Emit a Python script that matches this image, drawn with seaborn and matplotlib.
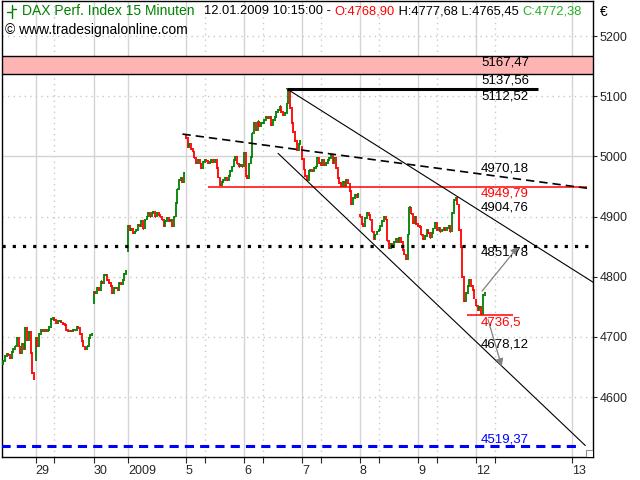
import numpy as np
import pandas as pd
import matplotlib
matplotlib.use('Agg')
import matplotlib.pyplot as plt
from matplotlib.patches import Rectangle
from matplotlib.lines import Line2D
import seaborn as sns

# DAX 15 minute closes per session (bar 0 = 29.12.2008 09:00)
dec23 = [4655, 4660, 4668, 4672, 4670, 4665, 4675, 4680, 4684, 4698,
         4684, 4673, 4688, 4680, 4715, 4695, 4708, 4673, 4640, 4630]
dec29 = [4698, 4684, 4705, 4712, 4709, 4712, 4709, 4712, 4717, 4729,
         4731, 4728, 4723, 4726, 4726, 4724, 4722, 4720, 4712, 4709,
         4710, 4709, 4711, 4712, 4717, 4715, 4705, 4693, 4684, 4680,
         4684, 4698, 4703, 4705]
dec30 = [4775, 4773, 4781, 4778, 4792, 4790, 4803, 4803, 4795, 4790,
         4784, 4773, 4781, 4781, 4778, 4790, 4788, 4795, 4805, 4810]
jan02 = [4885, 4878, 4880, 4873, 4875, 4878, 4886, 4884, 4892, 4880,
         4895, 4900, 4906, 4900, 4906, 4908, 4900, 4906, 4903, 4900,
         4895, 4884, 4892, 4897, 4892, 4895, 4884, 4900, 4922, 4945,
         4961, 4964, 4958, 4972]
jan05 = [5030, 5015, 5020, 5012, 5008, 4998, 4989, 4994, 4988, 4980,
         4991, 4994, 4993, 4989, 4991, 4994, 4991, 4994, 4980, 4965,
         4952, 4958, 4961, 4964, 4961, 4967, 4975, 4983, 4994, 4999,
         4988, 4983, 4985, 4983]
jan06 = [5005, 4967, 4964, 4988, 4999, 5038, 5055, 5044, 5058, 5050,
         5055, 5055, 5061, 5066, 5063, 5066, 5052, 5061, 5066, 5074,
         5077, 5083, 5074, 5069, 5072, 5088, 5108, 5080, 5055, 5040,
         5025, 5010, 5020, 5025]
jan07 = [4995, 4978, 4967, 4961, 4975, 4978, 4975, 4980, 4983, 4997,
         4989, 4986, 4994, 4986, 4989, 4994, 4997, 5003, 4989, 4997,
         4980, 4964, 4956, 4950, 4958, 4950, 4961, 4955, 4942, 4920,
         4931, 4936, 4933, 4938]
jan08 = [4900, 4888, 4884, 4897, 4906, 4903, 4895, 4875, 4862, 4870,
         4875, 4878, 4884, 4892, 4900, 4895, 4860, 4848, 4855, 4850,
         4858, 4862, 4858, 4864, 4858, 4845, 4837, 4830, 4870, 4915,
         4905, 4889, 4900, 4888]
jan09 = [4884, 4882, 4870, 4862, 4868, 4878, 4872, 4865, 4873, 4880,
         4889, 4878, 4881, 4875, 4878, 4881, 4878, 4881, 4884, 4875,
         4906, 4928, 4931, 4920, 4878, 4850, 4800, 4760, 4773, 4784,
         4795, 4784, 4778, 4765]
jan12 = [4752, 4745, 4750, 4738, 4768.90, 4772.38]
sessions = [dec23, dec29, dec30, jan02, jan05, jan06, jan07, jan08, jan09, jan12]
session_open = [4652, 4662, 4756, 4842, 5036, 4983, 5015, 4903, 4888, 4762]

# x axis: session starts (bar index) and labels
day_ticks = [0, 34, 54, 88, 122, 156, 190, 224, 258, 314]
day_labels = ['29', '30', '2009', '5', '6', '7', '8', '9', '12', '13']
midday_ticks = [11, 99, 133, 167, 201, 235, 269]

# drawn objects
band = (5137.56, 5167.47)
high_line = (147, 294, 5112.52)
low_support = (101, 323, 4949.79)
pivot_line = 4851.78
low_today = (252.5, 279.5, 4736.5)
target_line = 4519.37
upper_trend_x, upper_trend_y = [147, 327], [5112.52, 4790.0]
lower_trend_x, lower_trend_y = [142, 322], [5005.0, 4519.37]
dash_trend_x, dash_trend_y = [86, 323], [5037.0, 4947.0]
arrow_up = ((261.5, 4776), (282.7, 4850))
arrow_down = ((265, 4729), (273, 4651))
level_labels = [('5167,47', 5167.47, 'below', 'black'),
                ('5137,56', 5137.56, 'below', 'black'),
                ('5112,52', 5112.52, 'below', 'black'),
                ('4970,18', 4970.18, 'above', 'black'),
                ('4949,79', 4949.79, 'below', 'red'),
                ('4904,76', 4904.76, 'above', 'black'),
                ('4851,78', 4851.78, 'below', 'black'),
                ('4736,5', 4736.5, 'below', 'red'),
                ('4678,12', 4678.12, 'above', 'black'),
                ('4519,37', 4519.37, 'above', '#0000ff')]

# build bar table
closes = np.concatenate([np.array(s, dtype=float) for s in sessions])
opens = np.r_[np.nan, closes[:-1]]
pos = np.cumsum([0] + [len(s) for s in sessions[:-1]])
opens[pos] = session_open
df = pd.DataFrame({'x': np.arange(-20, -20 + len(closes)), 'open': opens, 'close': closes})
df['high'] = df[['open', 'close']].max(axis=1) + 1.5
df['low'] = df[['open', 'close']].min(axis=1) - 1.5
df['up'] = df['close'] >= df['open']

sns.set_style('white')
plt.rcParams['font.family'] = ['Liberation Sans', 'DejaVu Sans']

fig = plt.figure(figsize=(6.4, 4.8), dpi=100)
ax = fig.add_axes([2 / 640, 23 / 480, 591 / 640, 456 / 480])
ax.set_xlim(-19.7, 326.5)
ax.set_ylim(4500.3, 5258.2)

# grid
for t in day_ticks:
    ax.axvline(t, color='#d4d4d4', lw=1, zorder=0)
for t in midday_ticks:
    ax.axvline(t, color='#c8c8c8', lw=1, ls=(0, (1, 3)), zorder=0)
for p in [4600, 4700, 4800, 4900, 5100, 5200]:
    ax.axhline(p, color='#c8c8c8', lw=1, ls=(0, (1, 3)), zorder=0)
ax.axhline(5000, color='#d4d4d4', lw=1, zorder=0)

# resistance band
ax.axhspan(band[0], band[1], facecolor='#ffb4b4', edgecolor='none', zorder=1)
for b in band:
    ax.axhline(b, color='black', lw=1, zorder=2)

# OHLC bars
colors = np.where(df['up'], '#008000', '#ff0000')
ax.vlines(df['x'], df['low'], df['high'], colors=colors, lw=1.3, zorder=3)
ax.hlines(df['close'], df['x'], df['x'] + 0.6, colors=colors, lw=1.2, zorder=3)

# levels and trend lines
ax.hlines(high_line[2], high_line[0], high_line[1], color='black', lw=2.2, zorder=4)
ax.hlines(low_support[2], low_support[0], low_support[1], color='#ff0000', lw=1.1, zorder=4)
ax.hlines(low_today[2], low_today[0], low_today[1], color='#ff0000', lw=1.1, zorder=4)
ax.axhline(pivot_line, color='black', lw=2.3, ls=(0, (1, 2.2)), zorder=4)
ax.hlines(target_line, -20, 319, color='#0000ff', lw=2.2, ls=(0, (3, 2)), zorder=4)
sns.lineplot(x=upper_trend_x, y=upper_trend_y, ax=ax, color='black', lw=0.8, zorder=4)
sns.lineplot(x=lower_trend_x, y=lower_trend_y, ax=ax, color='black', lw=0.8, zorder=4)
sns.lineplot(x=dash_trend_x, y=dash_trend_y, ax=ax, color='black', lw=1.2,
             linestyle=(0, (5, 3)), zorder=4)

for start, end in [arrow_up, arrow_down]:
    ax.annotate('', xy=end, xytext=start,
                arrowprops=dict(arrowstyle='-|>', color='#808080', lw=0.9,
                                mutation_scale=11, shrinkA=0, shrinkB=0), zorder=5)

for text, val, side, col in level_labels:
    if side == 'below':
        ax.annotate(text, xy=(260.9, val), xytext=(0, -1), textcoords='offset points',
                    va='top', ha='left', color=col, fontsize=9.5, zorder=6)
    else:
        ax.annotate(text, xy=(260.9, val), xytext=(0, 0), textcoords='offset points',
                    va='bottom', ha='left', color=col, fontsize=9.5, zorder=6)

# axes cosmetics
for s in ax.spines.values():
    s.set_color('black')
    s.set_linewidth(1)
ax.yaxis.tick_right()
ax.set_yticks([4600, 4700, 4800, 4900, 5000, 5100, 5200])
ax.tick_params(axis='y', which='major', length=3, width=0.8, pad=2, labelsize=9,
               right=True, left=False, direction='out')
ax.set_xticks(day_ticks)
ax.set_xticklabels(day_labels)
ax.set_xticks(midday_ticks, minor=True)
ax.tick_params(axis='x', which='both', length=4, width=0.8, pad=2, labelsize=9,
               bottom=True, direction='out')
for lbl in ax.get_xticklabels():
    lbl.set_ha('left')
ax.set_xlabel('')
ax.set_ylabel('')
ax.grid(False)

ax.add_patch(Rectangle((586 / 640, 23 / 480), 7 / 640, 7 / 480, transform=fig.transFigure,
                       facecolor='white', edgecolor='#909090', lw=0.8, zorder=7))

# header
fy = 1 - 11 / 480
fig.add_artist(Line2D([11.5 / 640, 11.5 / 640], [1 - 5 / 480, 1 - 18 / 480], color='#008000', lw=1))
fig.add_artist(Line2D([6.5 / 640, 11.5 / 640], [1 - 12 / 480, 1 - 12 / 480], color='#008000', lw=1))
fig.add_artist(Line2D([11.5 / 640, 16 / 640], [1 - 9 / 480, 1 - 9 / 480], color='#008000', lw=1))
fig.text(22 / 640, fy, 'DAX Perf. Index 15 Minuten', color='#008000', fontsize=10, va='center')
prev = fig.text(204 / 640, fy, '12.01.2009 10:15:00 - ', color='black', fontsize=9.3, va='center')
for s, c in [('O:4768,90', '#ff0000'), (' H:4777,68 L:4765,45 ', 'black'), ('C:4772,38', '#22b022')]:
    prev = ax.annotate(s, xy=(1, 0), xycoords=prev, va='bottom', ha='left', color=c,
                       fontsize=9.3, annotation_clip=False)
fig.text(5 / 640, 1 - 30 / 480, '\u00a9 www.tradesignalonline.com', color='black', fontsize=10, va='center')
fig.text(600 / 640, 1 - 12 / 480, '\u20ac', color='black', fontsize=10, va='center')

fig.savefig('out.png', dpi=100)
